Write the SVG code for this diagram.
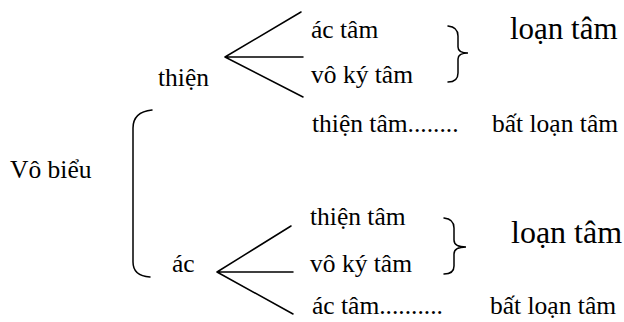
<svg xmlns="http://www.w3.org/2000/svg" width="624" height="322" viewBox="0 0 624 322">
<style>
.t{font-family:'Liberation Serif',serif;fill:#000;font-size:25.5px}
.big{font-size:31px}
.big2{font-size:32px}
.ln{stroke:#000;stroke-width:1.5;fill:none;stroke-linecap:round}
</style>
<rect width="624" height="322" fill="#fff"/>
<g id="connectors">
<path class="ln" d="M225,57 L301,12 M225,57 L303,57 M225,57 L303,97"/>
<path class="ln" d="M217,272 L291,226 M217,272 L293,272 M217,272 L293,314"/>
<path class="ln" d="M152,110 Q133,112 133,128 L133,262 Q133,276 150,277"/>
<path class="ln" d="M448,26 Q458,27 458,36 L458,47 Q458,53 468,53 Q458,53 458,59 L458,73 Q458,82 448,82"/>
<path class="ln" d="M444,218 Q454,219 454,228 L454,240 Q454,247 466,247 Q454,247 454,254 L454,266 Q454,274 444,274"/>
</g>
<g font-family="Liberation Serif, serif">
<g id="node-vobieu"><text class="t" x="10" y="178">Vô biểu</text></g>
<g id="node-thien"><text class="t" x="158" y="86">thiện</text></g>
<g id="node-actam1"><text class="t" x="311" y="38">ác tâm</text></g>
<g id="node-vokytam1"><text class="t" x="311" y="83">vô ký tâm</text></g>
<g id="node-loantam1"><text class="t big" x="510" y="39">loạn tâm</text></g>
<g id="node-thientam1"><text class="t" x="312" y="132">thiện tâm........</text></g>
<g id="node-batloantam1"><text class="t" x="492" y="132">bất loạn tâm</text></g>
<g id="node-ac"><text class="t" x="172" y="272">ác</text></g>
<g id="node-thientam2"><text class="t" x="310" y="225">thiện tâm</text></g>
<g id="node-vokytam2"><text class="t" x="310" y="272">vô ký tâm</text></g>
<g id="node-loantam2"><text class="t big2" x="511" y="243">loạn tâm</text></g>
<g id="node-actam2"><text class="t" x="312" y="314">ác tâm..........</text></g>
<g id="node-batloantam2"><text class="t" x="490" y="314">bất loạn tâm</text></g>
</g>
</svg>
